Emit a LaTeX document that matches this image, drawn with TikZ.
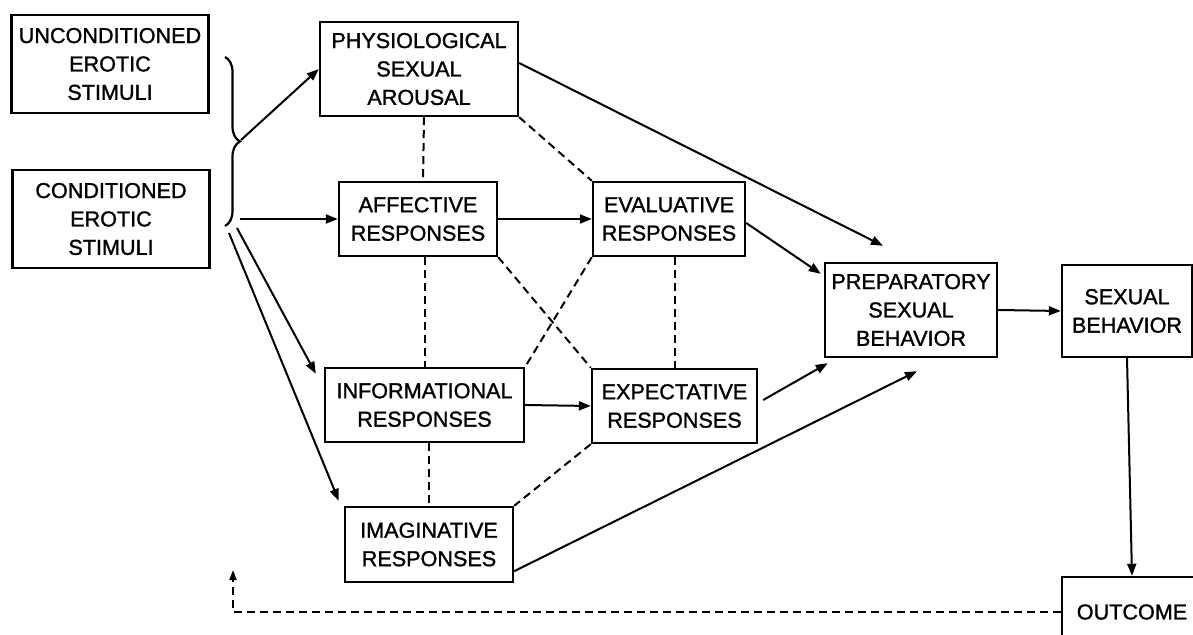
\documentclass[tikz,border=0pt]{standalone}
\usepackage{fontspec}
\setmainfont{Liberation Sans}
\newfontfamily\boxfont{Liberation Sans}[RawFeature={embolden=1.3}]
\usetikzlibrary{arrows.meta,decorations.pathreplacing}
\tikzset{
  box/.style={draw,line width=1.2pt,rectangle,align=center,inner sep=0pt,
    font=\boxfont\fontsize{10.8}{14.2}\selectfont},
  link/.style={line width=1pt,-{Triangle[length=6pt,width=4.5pt]}},
  tie/.style={line width=1pt,dash pattern=on 4pt off 2.5pt},
}
\begin{document}
\begin{tikzpicture}[x=0.5pt,y=-0.5pt]
  \useasboundingbox (0,0) rectangle (1193,635);
  \clip (0,0) rectangle (1193,635);
  \node[box,minimum width=98.5pt,minimum height=49pt] (ucs) at (110,64) {UNCONDITIONED\\EROTIC\\STIMULI};
  \node[box,minimum width=98.5pt,minimum height=49pt] (cs) at (111,219) {CONDITIONED\\EROTIC\\STIMULI};
  \node[box,minimum width=99pt,minimum height=47pt] (phys) at (419,69) {PHYSIOLOGICAL\\SEXUAL\\AROUSAL};
  \node[box,minimum width=79pt,minimum height=37pt] (aff) at (418,219) {AFFECTIVE\\RESPONSES};
  \node[box,minimum width=76pt,minimum height=37pt] (eval) at (669,219) {EVALUATIVE\\RESPONSES};
  \node[box,minimum width=99.5pt,minimum height=37pt] (inf) at (424.5,405) {INFORMATIONAL\\RESPONSES};
  \node[box,minimum width=82.5pt,minimum height=37pt] (exp) at (674.5,406) {EXPECTATIVE\\RESPONSES};
  \node[box,minimum width=84pt,minimum height=37.5pt] (imag) at (429,544.5) {IMAGINATIVE\\RESPONSES};
  \node[box,minimum width=86pt,minimum height=47pt] (prep) at (911,310) {PREPARATORY\\SEXUAL\\BEHAVIOR};
  \node[box,minimum width=65pt,minimum height=46pt] (sexb) at (1127,311) {SEXUAL\\BEHAVIOR};
  \node[box,minimum width=70pt,minimum height=35pt] (outc) at (1132,612) {OUTCOME};

  % brace joining both kinds of stimuli
  \draw[line width=1.1pt,decorate,decoration={brace,amplitude=7.5pt,aspect=0.5}]
    (225,57) -- (225,226);
  \coordinate (tip) at (241,140);
  \coordinate (b1) at (240,219);
  \coordinate (b2) at (237,228);
  \coordinate (b3) at (229,233);
  \coordinate (back) at (233,570);

  \begin{scope}[link]
    \draw (tip) to (phys.west);
    \draw (b1) to (aff.west);
    \draw (b2) to ([xshift=-4pt,yshift=-3.5pt]inf.north west);
    \draw (b3) to ([xshift=-2.5pt,yshift=2.5pt]imag.north west);
    \draw (aff.east) to (eval.west);
    \draw (inf.east) to (exp.west);
    \draw ([yshift=3pt]phys.east) to ([xshift=-14pt,yshift=8pt]prep.north);
    \draw ([yshift=-2pt]eval.east) to ([xshift=-1.5pt,yshift=-6pt]prep.north west);
    \draw ([xshift=2.5pt,yshift=3pt]exp.east) to ([xshift=2pt,yshift=-2.5pt]prep.south west);
    \draw ([yshift=6pt]imag.south east) to ([xshift=3pt,yshift=-6.5pt]prep.south);
    \draw (prep.east) to (sexb.west);
    \draw (sexb.south) to (outc.north);
  \end{scope}

  \begin{scope}[tie]
    \draw ([xshift=2.5pt]phys.south) to ([xshift=2.5pt]aff.north);
    \draw (phys.south east) to (eval.north west);
    \draw (inf.north |- aff.south) to (inf.north);
    \draw (aff.south east) to (exp.north west);
    \draw (eval.south west) to (inf.north east);
    \draw (exp.north |- eval.south) to (exp.north);
    \draw (imag.north |- inf.south) to (imag.north);
    \draw (exp.south west) to (imag.north east);
    \draw[-{Triangle[length=5pt,width=3.5pt]}] (outc.west) -| (back);
  \end{scope}
\end{tikzpicture}
\end{document}
